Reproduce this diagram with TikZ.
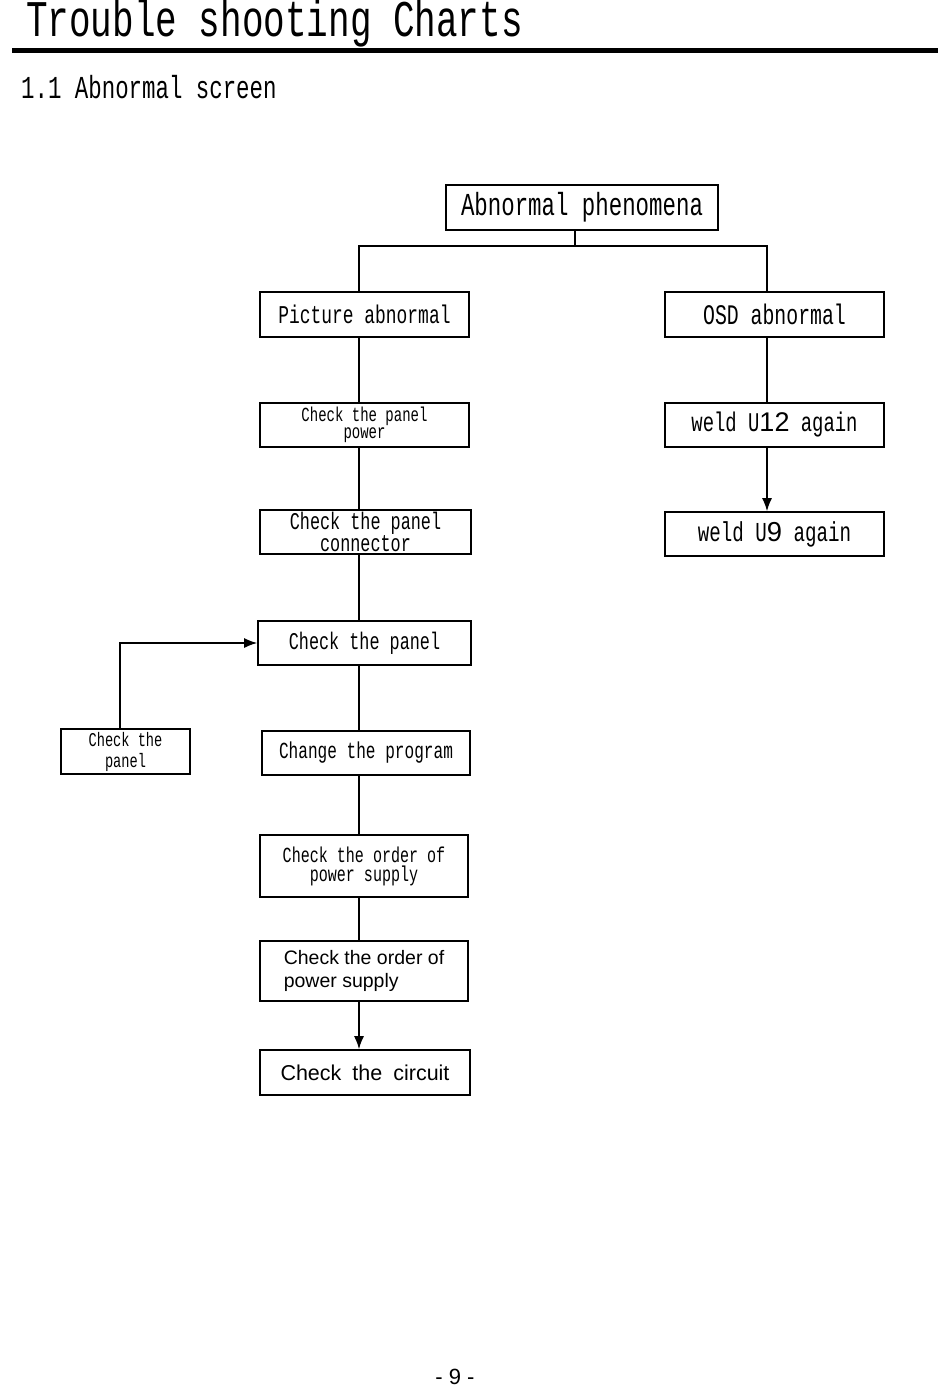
\documentclass[tikz,border=0pt]{standalone}
\usepackage{fontspec}
\setmainfont{Liberation Serif}
\setmonofont[FakeStretch=0.7]{Liberation Mono}
\setsansfont{Liberation Sans}
\usetikzlibrary{arrows.meta}

\newcommand{\mono}[2]{\ttfamily\fontsize{#1}{#2}\selectfont}
\newcommand{\sans}[2]{\sffamily\fontsize{#1}{#2}\selectfont}

\begin{document}
\begin{tikzpicture}[x=1pt,y=-1pt,
    box/.style={draw,line width=1.6pt,inner sep=0pt,align=center},
    link/.style={line width=1.5pt},
    arr/.style={line width=1.5pt,-{Latex[length=13pt,width=10pt]}}]
    \useasboundingbox (0,0) rectangle (950,1397);
    \node[anchor=base west,inner sep=0pt,font=\mono{51.4}{52}] (T) at (26,37) {Trouble shooting Charts};
    \draw[line width=4.5pt] (12,50.5) -- (938,50.5);
    \node[anchor=base west,inner sep=0pt,font=\mono{32}{32}] (S) at (21,99) {1.1 Abnormal screen};
    \node[box,minimum width=272,minimum height=45,font=\mono{32}{32}] (AP) at (582,207.5) {Abnormal phenomena};
    \node[box,minimum width=209,minimum height=45,font=\mono{25.6}{26}] (PA) at (364.5,314.5) {Picture abnormal};
    \node[box,minimum width=219,minimum height=45,font=\mono{28.3}{28}] (OA) at (774.5,314.5) {OSD abnormal};
    \node[box,minimum width=209,minimum height=44,font=\mono{20}{17}] (PP) at (364.5,425) {Check the panel\\power};
    \node[box,minimum width=219,minimum height=44,font=\mono{27}{27}] (U12) at (774.5,425) {weld U{\sffamily 12} again};
    \node[box,minimum width=211,minimum height=44,font=\mono{24}{19.5}] (PC) at (365.5,532) {Check the panel\\connector};
    \node[box,minimum width=219,minimum height=44,font=\mono{27.4}{27}] (U9) at (774.5,534) {weld U{\sffamily 9} again};
    \node[box,minimum width=213,minimum height=44,font=\mono{24}{24}] (CP) at (364.5,643) {Check the panel};
    \node[box,minimum width=129,minimum height=45,font=\mono{19.5}{21}] (LP) at (125.5,751.5) {Check the\\panel};
    \node[box,minimum width=208,minimum height=44,font=\mono{23}{23}] (PR) at (366,753) {Change the program};
    \node[box,minimum width=208,minimum height=62,font=\mono{21.5}{19}] (OM) at (364,866) {Check the order of\\power supply};
    \node[box,minimum width=208,minimum height=60,font=\sans{19.5}{22.5},align=left] (OS) at (364,971) {Check the order of\\power supply};
    \node[box,minimum width=210,minimum height=45,font={\sans{21.5}{22}\spaceskip 11pt\relax}] (CC) at (365,1072.5) {Check the circuit};
    \node[font=\sans{22}{22}] (pg) at (455,1377) {- 9 -};
    \coordinate (sp) at (359,0);
    \coordinate (br) at (575,246);
    \coordinate (rs) at (767,0);
    \coordinate (ls) at (120,0);
    \draw[link] (AP.south -| br) -- (br);
    \draw[link] (PA.north -| sp) |- (br) -| (OA.north -| rs);
    \draw[link] (PA.south -| sp) -- (PP.north -| sp);
    \draw[link] (PP.south -| sp) -- (PC.north -| sp);
    \draw[link] (PC.south -| sp) -- (CP.north -| sp);
    \draw[link] (CP.south -| sp) -- (PR.north -| sp);
    \draw[link] (PR.south -| sp) -- (OM.north -| sp);
    \draw[link] (OM.south -| sp) -- (OS.north -| sp);
    \draw[arr] (OS.south -| sp) -- (CC.north -| sp);
    \draw[link] (OA.south -| rs) -- (U12.north -| rs);
    \draw[arr] (U12.south -| rs) -- (U9.north -| rs);
    \draw[arr] (LP.north -| ls) |- (CP.west);
\end{tikzpicture}
\end{document}
